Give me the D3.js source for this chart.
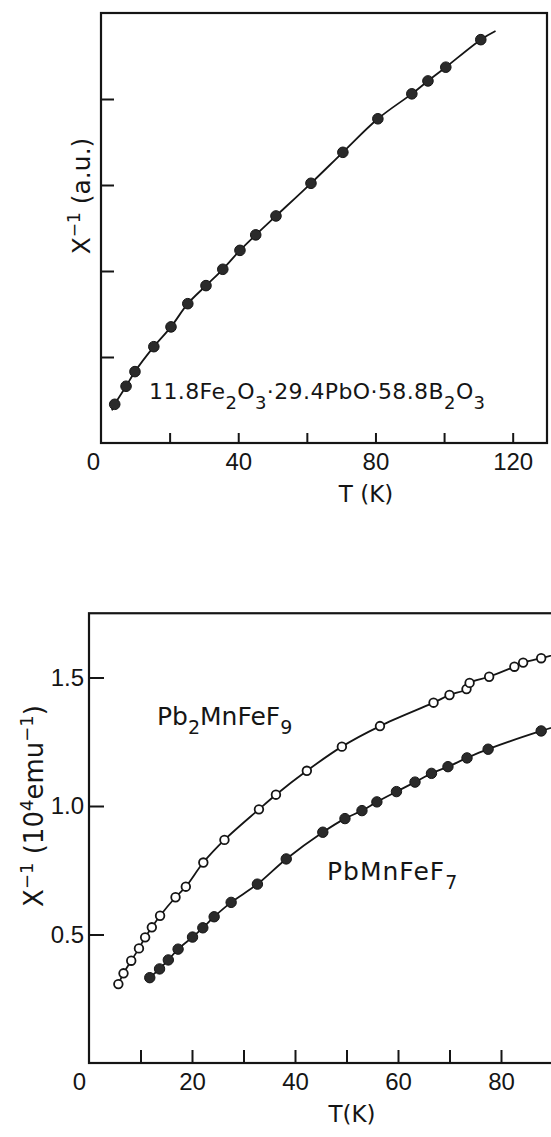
<!DOCTYPE html>
<html>
<head>
<meta charset="utf-8">
<script src="https://cdn.jsdelivr.net/npm/d3@7"></script>
<style>
  html, body { margin: 0; padding: 0; background: #fff; }
  svg { display: block; }
  text { font-family: "DejaVu Sans", "Liberation Sans", sans-serif; fill: #151515; }
</style>
</head>
<body>
<svg id="fig" width="551" height="1137"></svg>
<script>
// ---- Panel (a): glass 11.8Fe2O3·29.4PbO·58.8B2O3, inverse susceptibility (a.u.)
const glassT   = [4, 7.3, 9.9, 15.4, 20.4, 25.3, 30.6, 35.5, 40.5, 45.1, 51.0, 61.2, 70.5, 80.7, 90.6, 95.3, 100.5, 110.7];
const glassInv = [0.45, 0.66, 0.83, 1.12, 1.35, 1.62, 1.83, 2.02, 2.24, 2.42, 2.64, 3.02, 3.38, 3.77, 4.06, 4.21, 4.37, 4.69];
// drawn curve runs a little past the measured range
const glassCurveStart = [3.2, 0.38];
const glassCurveEnd   = [115, 4.79];
const glassXTicks = [0, 20, 40, 60, 80, 100, 120];
const glassXLabels = [0, 40, 80, 120];
const glassYTicks = [1, 2, 3, 4];

// ---- Panel (b): fluorides, inverse susceptibility (10^4 emu^-1)
const pb2T   = [5.7, 6.7, 8.2, 9.7, 10.9, 12.2, 13.8, 16.8, 18.8, 22.2, 26.3, 33.0, 36.3, 42.3, 49.1, 56.5, 66.9, 70.0, 73.3, 73.9, 77.7, 82.6, 84.3, 87.8];
const pb2Inv = [0.307, 0.349, 0.398, 0.446, 0.489, 0.528, 0.573, 0.645, 0.686, 0.780, 0.868, 0.987, 1.044, 1.137, 1.231, 1.311, 1.402, 1.432, 1.455, 1.479, 1.503, 1.542, 1.558, 1.575];
const pb1T   = [11.8, 13.7, 15.4, 17.3, 20.1, 22.1, 24.3, 27.6, 32.7, 38.3, 45.4, 49.7, 53.0, 55.9, 59.7, 63.3, 66.5, 69.7, 73.4, 77.5, 87.8];
const pb1Inv = [0.332, 0.366, 0.401, 0.443, 0.490, 0.526, 0.569, 0.625, 0.696, 0.794, 0.898, 0.951, 0.982, 1.016, 1.056, 1.093, 1.127, 1.153, 1.187, 1.221, 1.292];
const pb2CurveEnd = [95, 1.615];
const pb1CurveEnd = [95, 1.335];
const fluorXTicks = [0, 10, 20, 30, 40, 50, 60, 70, 80, 90];
const fluorXLabels = [0, 20, 40, 60, 80];
const fluorYTicks = [0.5, 1.0, 1.5];

const ink = "#151515";
const svg = d3.select("#fig");

function frame(g, x, y) {
  const [x0, x1] = x.range();
  const [y0, y1] = y.range();
  g.append("rect")
    .attr("x", x0).attr("y", y1)
    .attr("width", x1 - x0).attr("height", y0 - y1)
    .attr("fill", "none").attr("stroke", ink).attr("stroke-width", 2.2);
}

function styleAxis(sel) {
  sel.select(".domain").remove();
  sel.selectAll(".tick line").attr("stroke", ink).attr("stroke-width", 2);
  sel.selectAll(".tick text").attr("fill", ink).style("font-size", "24px")
     .style("font-family", "'Liberation Sans', Arial, sans-serif");
}

// text with sub/superscript runs: parts = [[string, shift]], shift>0 lowers, <0 raises
function richText(parent, size, smallSize, parts) {
  const t = parent.append("text").style("font-size", size + "px");
  let cur = 0;
  parts.forEach(([s, shift]) => {
    t.append("tspan").attr("dy", shift - cur)
      .style("font-size", (shift ? smallSize : size) + "px").text(s);
    cur = shift;
  });
  return t;
}

// ===================== Panel (a) =====================
{
  const x = d3.scaleLinear().domain([0, 130]).range([101, 547]);
  const y = d3.scaleLinear().domain([0, 5]).range([443, 13]);
  const g = svg.append("g");

  frame(g, x, y);

  g.append("g")
    .attr("transform", `translate(0,${y(0)})`)
    .call(d3.axisBottom(x).tickValues(glassXTicks).tickSize(-10).tickPadding(10)
      .tickFormat(d => glassXLabels.includes(d) ? d : ""))
    .call(styleAxis)
    .call(s => s.selectAll(".tick").filter(d => d === 0).select("line").remove())
    .call(s => s.selectAll(".tick").filter(d => d === 0).select("text").attr("dx", -8));

  g.append("g")
    .attr("transform", `translate(${x(0)},0)`)
    .call(d3.axisLeft(y).tickValues(glassYTicks).tickSize(-13).tickFormat(""))
    .call(styleAxis);

  const pts = glassT.map((t, i) => [t, glassInv[i]]);
  const curve = [glassCurveStart, ...pts, glassCurveEnd];
  const line = d3.line().x(d => x(d[0])).y(d => y(d[1])).curve(d3.curveCatmullRom.alpha(0.5));
  g.append("path").attr("d", line(curve))
    .attr("fill", "none").attr("stroke", ink).attr("stroke-width", 1.8);

  g.selectAll("circle.glass").data(pts).join("circle")
    .attr("class", "glass")
    .attr("cx", d => x(d[0])).attr("cy", d => y(d[1])).attr("r", 5.3)
    .attr("fill", "#2a2a2a").attr("stroke", ink).attr("stroke-width", 1);

  // x title
  g.append("text").attr("x", 366).attr("y", 502)
    .attr("text-anchor", "middle").style("font-size", "23px").text("T (K)");

  // y title
  richText(g, 25, 17, [["X", 0], ["−1", -10], [" (a.u.)", 0]])
    .attr("transform", `translate(90,196) rotate(-90)`)
    .attr("text-anchor", "middle");

  // composition label
  richText(g, 22, 18, [["11.8Fe", 0], ["2", 10], ["O", 0], ["3", 10], ["·29.4PbO·58.8B", 0], ["2", 10], ["O", 0], ["3", 10]])
    .attr("x", 149).attr("y", 399).style("letter-spacing", "0.4px");
}

// ===================== Panel (b) =====================
{
  const x = d3.scaleLinear().domain([0, 100]).range([89, 604]);
  const y = d3.scaleLinear().domain([0, 1.75]).range([1063, 613.25]);
  const g = svg.append("g");

  frame(g, x, y);

  g.append("g")
    .attr("transform", `translate(0,${y(0)})`)
    .call(d3.axisBottom(x).tickValues(fluorXTicks).tickSize(-13).tickPadding(10)
      .tickFormat(d => fluorXLabels.includes(d) ? d : ""))
    .call(styleAxis)
    .call(s => s.selectAll(".tick").filter(d => d === 0).select("line").remove())
    .call(s => s.selectAll(".tick").filter(d => d === 0).select("text").attr("dx", -10));

  g.append("g")
    .attr("transform", `translate(${x(0)},0)`)
    .call(d3.axisLeft(y).tickValues(fluorYTicks).tickSize(-15).tickPadding(5)
      .tickFormat(d3.format(".1f")))
    .call(styleAxis);

  const line = d3.line().x(d => x(d[0])).y(d => y(d[1])).curve(d3.curveCatmullRom.alpha(0.5));

  const open = pb2T.map((t, i) => [t, pb2Inv[i]]);
  const full = pb1T.map((t, i) => [t, pb1Inv[i]]);

  g.append("path").attr("d", line([...open, pb2CurveEnd]))
    .attr("fill", "none").attr("stroke", ink).attr("stroke-width", 1.8);
  g.append("path").attr("d", line([...full, pb1CurveEnd]))
    .attr("fill", "none").attr("stroke", ink).attr("stroke-width", 1.8);

  g.selectAll("circle.open").data(open).join("circle")
    .attr("class", "open")
    .attr("cx", d => x(d[0])).attr("cy", d => y(d[1])).attr("r", 4.3)
    .attr("fill", "#fff").attr("stroke", ink).attr("stroke-width", 1.8);

  g.selectAll("circle.full").data(full).join("circle")
    .attr("class", "full")
    .attr("cx", d => x(d[0])).attr("cy", d => y(d[1])).attr("r", 5.2)
    .attr("fill", "#2a2a2a").attr("stroke", ink).attr("stroke-width", 1);

  g.append("text").attr("x", 352).attr("y", 1122)
    .attr("text-anchor", "middle").style("font-size", "23px").text("T(K)");

  richText(g, 26, 18, [["X", 0], ["−1", -10], [" (10", 0], ["4", -10], ["emu", 0], ["−1", -10], [")", 0]])
    .attr("transform", `translate(43,806) rotate(-90)`)
    .attr("text-anchor", "middle");

  richText(g, 25, 19, [["Pb", 0], ["2", 9], ["MnFeF", 0], ["9", 9]])
    .attr("x", 157).attr("y", 725);
  richText(g, 25, 19, [["Pb", 0], ["MnFeF", 0], ["7", 9]])
    .attr("x", 327).attr("y", 880).style("letter-spacing", "1px");
}
</script>
</body>
</html>
